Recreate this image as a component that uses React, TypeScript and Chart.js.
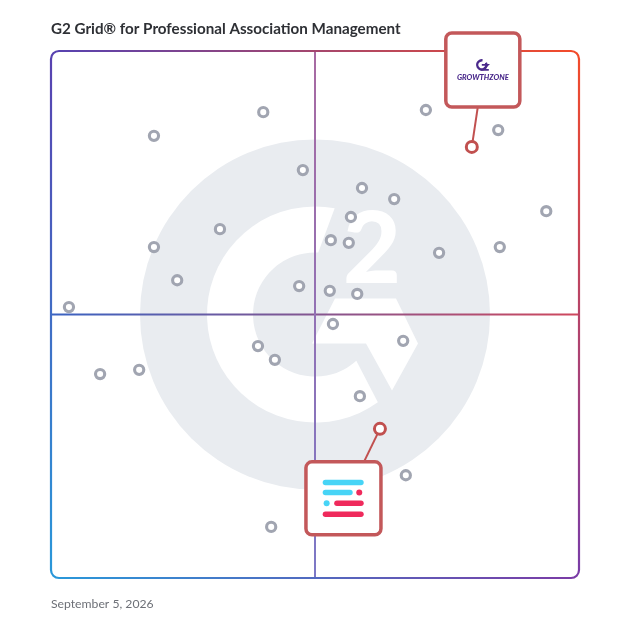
import React, { useEffect, useRef } from "react";
import { Chart, registerables } from "chart.js";

Chart.register(...registerables);

const TITLE = "G2 Grid® for Professional Association Management";
const DATE_LABEL = "September 5, 2026";

// Market presence (x) and satisfaction (y), 0-100
const productX = [19.5, 40.2, 71.0, 84.7, 47.7, 58.9, 65.0, 56.8, 93.8, 32.0, 53.0, 56.4, 19.5, 73.5, 85.0, 23.9, 47.0, 52.8, 58.0, 3.4, 53.4, 66.7, 39.2, 42.4, 9.3, 16.7, 58.5, 67.2, 41.7];
const productY = [83.9, 88.4, 88.8, 85.0, 77.4, 74.0, 71.9, 68.5, 69.6, 66.2, 64.1, 63.6, 62.8, 61.7, 62.8, 56.5, 55.4, 54.5, 53.9, 51.4, 48.2, 45.0, 44.0, 41.4, 38.7, 39.5, 34.5, 19.5, 9.7];

const featuredNames = ["GROWTHZONE", "Featured"];
const featuredX = [79.7, 62.3];
const featuredY = [81.8, 28.3];

const DEG = Math.PI / 180;
const FONT = "Lato, 'Noto Sans', sans-serif";

function roundRect(ctx: any, x: number, y: number, w: number, h: number, r: number) {
  ctx.beginPath();
  ctx.moveTo(x + r, y);
  ctx.lineTo(x + w - r, y);
  ctx.arcTo(x + w, y, x + w, y + r, r);
  ctx.lineTo(x + w, y + h - r);
  ctx.arcTo(x + w, y + h, x + w - r, y + h, r);
  ctx.lineTo(x + r, y + h);
  ctx.arcTo(x, y + h, x, y + h - r, r);
  ctx.lineTo(x, y + r);
  ctx.arcTo(x, y, x + r, y, r);
  ctx.closePath();
}

const CALLOUTS = [
  { dx: -26, dy: -114, w: 74, h: 74, lineX: 6, fromTop: false },
  { dx: -74, dy: 33, w: 75, h: 73, lineX: -16, fromTop: true },
];

const gridPlugin = {
  id: "g2grid",
  beforeDatasetsDraw(chart: any) {
    const { ctx, chartArea: ca, scales } = chart;
    const cx = scales.x.getPixelForValue(50);
    const cy = scales.y.getPixelForValue(50);
    ctx.save();
    // watermark circle
    ctx.fillStyle = "#e9ecf0";
    ctx.beginPath();
    ctx.arc(cx, cy, 175, 0, Math.PI * 2);
    ctx.fill();
    // white G
    ctx.fillStyle = "#ffffff";
    ctx.beginPath();
    ctx.arc(cx, cy, 108, 54.4 * DEG, 280.5 * DEG, false);
    ctx.lineTo(cx + 62 * Math.cos(273 * DEG), cy + 62 * Math.sin(273 * DEG));
    ctx.arc(cx, cy, 62, 273 * DEG, 48.2 * DEG, true);
    ctx.closePath();
    ctx.fill();
    const chev = [[-3, 29], [20, -16], [81, -16], [103, 29], [77, 76], [51, 29]];
    ctx.beginPath();
    chev.forEach(([x, y], i) => (i ? ctx.lineTo(cx + x, cy + y) : ctx.moveTo(cx + x, cy + y)));
    ctx.closePath();
    ctx.fill();
    ctx.font = "900 100px " + FONT;
    ctx.textAlign = "left";
    ctx.textBaseline = "alphabetic";
    ctx.fillText("2", cx + 28, cy - 32);

    // quadrant lines
    ctx.lineWidth = 2;
    let g = ctx.createLinearGradient(ca.left, 0, ca.right, 0);
    g.addColorStop(0, "#3a63c2");
    g.addColorStop(1, "#cf485d");
    ctx.strokeStyle = g;
    ctx.beginPath();
    ctx.moveTo(ca.left, cy);
    ctx.lineTo(ca.right, cy);
    ctx.stroke();
    g = ctx.createLinearGradient(0, ca.top, 0, ca.bottom);
    g.addColorStop(0, "#a86aa2");
    g.addColorStop(1, "#7c78c6");
    ctx.strokeStyle = g;
    ctx.beginPath();
    ctx.moveTo(cx, ca.top);
    ctx.lineTo(cx, ca.bottom);
    ctx.stroke();

    // frame
    const L = ca.left, R = ca.right, T = ca.top, B = ca.bottom, r = 8;
    const TL = "#5842b0", TR = "#f24b2b", BL = "#2a97d9", BR = "#7a3ca6";
    ctx.lineWidth = 2.2;
    const side = (x1: number, y1: number, x2: number, y2: number, c1: string, c2: string) => {
      const gg = ctx.createLinearGradient(x1, y1, x2, y2);
      gg.addColorStop(0, c1);
      gg.addColorStop(1, c2);
      ctx.strokeStyle = gg;
      ctx.beginPath();
      ctx.moveTo(x1, y1);
      ctx.lineTo(x2, y2);
      ctx.stroke();
    };
    side(L + r, T, R - r, T, TL, TR);
    side(R, T + r, R, B - r, TR, BR);
    side(L + r, B, R - r, B, BL, BR);
    side(L, T + r, L, B - r, TL, BL);
    const corner = (x: number, y: number, a0: number, a1: number, c: string) => {
      ctx.strokeStyle = c;
      ctx.beginPath();
      ctx.arc(x, y, r, a0, a1);
      ctx.stroke();
    };
    corner(L + r, T + r, Math.PI, 1.5 * Math.PI, TL);
    corner(R - r, T + r, 1.5 * Math.PI, 2 * Math.PI, TR);
    corner(R - r, B - r, 0, 0.5 * Math.PI, BR);
    corner(L + r, B - r, 0.5 * Math.PI, Math.PI, BL);

    // callout connector lines
    const meta = chart.getDatasetMeta(1);
    ctx.strokeStyle = "#c1504f";
    ctx.lineWidth = 2;
    meta.data.forEach((pt: any, i: number) => {
      const c = CALLOUTS[i];
      if (!c) return;
      const by = c.fromTop ? pt.y + c.dy : pt.y + c.dy + c.h;
      ctx.beginPath();
      ctx.moveTo(pt.x, pt.y);
      ctx.lineTo(pt.x + c.lineX, by);
      ctx.stroke();
    });
    ctx.restore();
  },
  afterDatasetsDraw(chart: any) {
    const { ctx } = chart;
    const meta = chart.getDatasetMeta(1);
    ctx.save();
    meta.data.forEach((pt: any, i: number) => {
      const c = CALLOUTS[i];
      if (!c) return;
      const x = pt.x + c.dx, y = pt.y + c.dy;
      roundRect(ctx, x, y, c.w, c.h, 6);
      ctx.fillStyle = "#ffffff";
      ctx.fill();
      ctx.lineWidth = 3.5;
      ctx.strokeStyle = "#c3585a";
      ctx.stroke();
      if (i === 0) {
        // GrowthZone logo
        ctx.strokeStyle = "#4b2a8c";
        ctx.fillStyle = "#4b2a8c";
        ctx.lineWidth = 2.4;
        ctx.beginPath();
        ctx.arc(x + 36, y + 32, 4.6, -0.15 * Math.PI, 1.55 * Math.PI);
        ctx.stroke();
        ctx.lineWidth = 1.8;
        ctx.beginPath();
        ctx.moveTo(x + 36, y + 32);
        ctx.lineTo(x + 42, y + 32);
        ctx.lineTo(x + 37, y + 37);
        ctx.lineTo(x + 43, y + 37);
        ctx.stroke();
        ctx.font = "italic 900 7.6px " + FONT;
        ctx.textAlign = "center";
        ctx.textBaseline = "middle";
        ctx.fillText(featuredNames[0], x + 37, y + 45);
      } else {
        const cyan = "#47d4f6", pink = "#ef2a5c";
        ctx.lineCap = "round";
        ctx.lineWidth = 5.5;
        const seg = (x1: number, x2: number, yy: number, col: string) => {
          ctx.strokeStyle = col;
          ctx.beginPath();
          ctx.moveTo(x + x1, y + yy);
          ctx.lineTo(x + x2, y + yy);
          ctx.stroke();
        };
        const dot = (xx: number, yy: number, col: string) => {
          ctx.fillStyle = col;
          ctx.beginPath();
          ctx.arc(x + xx, y + yy, 3, 0, Math.PI * 2);
          ctx.fill();
        };
        seg(19.5, 55, 20.7, cyan);
        seg(19.5, 44, 30.7, cyan);
        dot(53.3, 30.7, pink);
        dot(20.7, 41.3, cyan);
        seg(31, 55, 41.3, pink);
        seg(19.5, 55, 52.3, pink);
        ctx.lineCap = "butt";
      }
    });
    ctx.restore();
  },
  afterDraw(chart: any) {
    const { ctx, chartArea: ca } = chart;
    ctx.save();
    ctx.textAlign = "left";
    ctx.textBaseline = "middle";
    ctx.fillStyle = "#2e3035";
    ctx.font = "700 15.2px " + FONT;
    ctx.fillText(TITLE, ca.left, 29);
    ctx.fillStyle = "#6d7077";
    ctx.font = "400 12.2px " + FONT;
    ctx.fillText(DATE_LABEL, ca.left, 604);
    ctx.restore();
  },
};

export default function App() {
  const ref = useRef<HTMLCanvasElement | null>(null);
  useEffect(() => {
    if (!ref.current) return;
    const chart = new Chart(ref.current, {
      type: "scatter",
      data: {
        datasets: [
          {
            label: "Products",
            data: productX.map((x, i) => ({ x, y: productY[i] })),
            pointRadius: 4.6,
            pointBorderWidth: 3.1,
            borderColor: "#a1a5b1",
            backgroundColor: "#ffffff",
            pointHoverRadius: 4.6,
            clip: false,
          },
          {
            label: "Featured",
            data: featuredX.map((x, i) => ({ x, y: featuredY[i] })),
            pointRadius: 5.5,
            pointBorderWidth: 3,
            borderColor: "#c1504f",
            backgroundColor: "#ffffff",
            pointHoverRadius: 5.5,
            clip: false,
          },
        ],
      },
      options: {
        responsive: false,
        animation: false,
        devicePixelRatio: 1,
        layout: { padding: { left: 51, top: 51, right: 49, bottom: 50 } },
        scales: {
          x: { display: false, min: 0, max: 100 },
          y: { display: false, min: 0, max: 100 },
        },
        plugins: { legend: { display: false }, tooltip: { enabled: false } },
        events: [],
      },
      plugins: [gridPlugin],
    } as any);
    return () => chart.destroy();
  }, []);
  return (
    <div style={{ position: "fixed", left: 0, top: 0, width: 628, height: 628, background: "#ffffff" }}>
      <canvas ref={ref} width={628} height={628} style={{ display: "block" }} />
    </div>
  );
}
